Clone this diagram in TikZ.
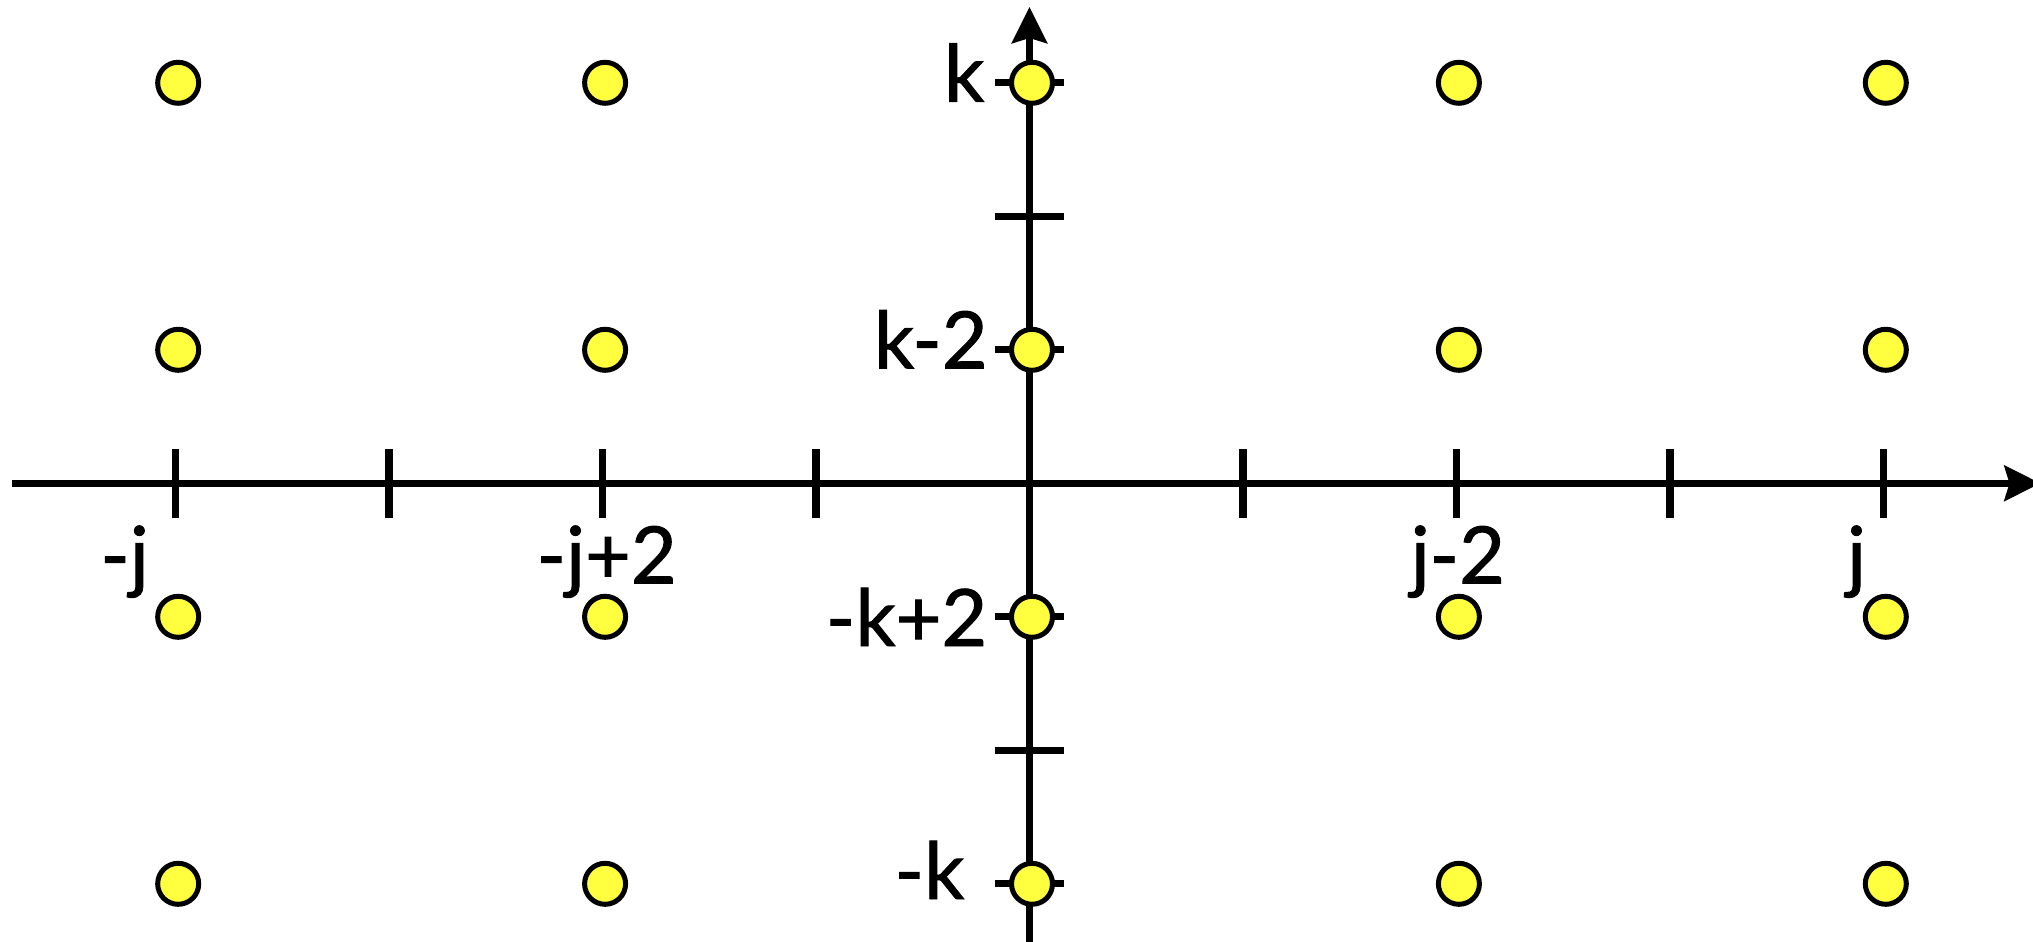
\documentclass[tikz,border=0pt]{standalone}
\usepackage{fontspec}
\setmainfont{Lato}[UprightFeatures={FakeBold=1.2}]
\usetikzlibrary{arrows.meta}
\definecolor{jaune}{RGB}{255,255,64}

\begin{document}
\begin{tikzpicture}[
    axe/.style={line width=0.073cm},
    fleche/.style={-{Stealth[length=0.36cm, width=0.35cm, inset=0.05cm]}},
    point/.style={circle, draw, fill=jaune, line width=0.05cm,
                  minimum size=0.41cm, inner sep=0pt},
    etiq/.style={font=\fontsize{22.5pt}{27pt}\selectfont, inner sep=0pt}
  ]

  % --- Paramètres de la grille ---
  \pgfmathsetmacro{\pasx}{2.1345}   % pas horizontal
  \pgfmathsetmacro{\pasy}{1.335}    % pas vertical
  \pgfmathsetmacro{\demigrad}{0.345} % demi-longueur d'une graduation

  \useasboundingbox (-10.295,-4.577) rectangle (10.035,4.833);

  % --- Axes ---
  \draw[axe, fleche] (-10.172,0) -- (10.11,0);
  \draw[axe, fleche] (0,-4.7) -- (0,4.763);

  % --- Graduations ---
  \foreach \i in {-4,-3,-2,-1,1,2,3,4}
    \draw[axe] (\i*\pasx,-\demigrad) -- (\i*\pasx,\demigrad);
  \foreach \j in {-3,-2,-1,1,2,3}
    \draw[axe] (-\demigrad,\j*\pasy) -- (\demigrad,\j*\pasy);

  % --- Points de la grille ---
  \foreach \i in {-2,...,2}
    \foreach \j in {-3,-1,1,3}
      \node[point] (p\i\j) at ({\i*2*\pasx+0.025}, {\j*\pasy}) {};

  % --- Etiquettes de l'axe horizontal ---
  \node[etiq, anchor=base] (mj)   at (-9.048,-1.0) {-j};
  \node[etiq, anchor=base] (mj2)  at (-4.228,-1.0) {-j+2};
  \node[etiq, anchor=base] (j2)   at (4.284,-1.0)  {j-2};
  \node[etiq, anchor=base] (jj)   at (8.27,-1.0)   {j};

  % --- Etiquettes de l'axe vertical ---
  \node[etiq, anchor=base east] (kk)  at (-0.445,3.816)  {k};
  \node[etiq, anchor=base east] (k2)  at (-0.412,1.15)   {k-2};
  \node[etiq, anchor=base east] (mk2) at (-0.415,-1.627) {-k+2};
  \node[etiq, anchor=base east] (mk)  at (-0.645,-4.157) {-k};

\end{tikzpicture}
\end{document}
